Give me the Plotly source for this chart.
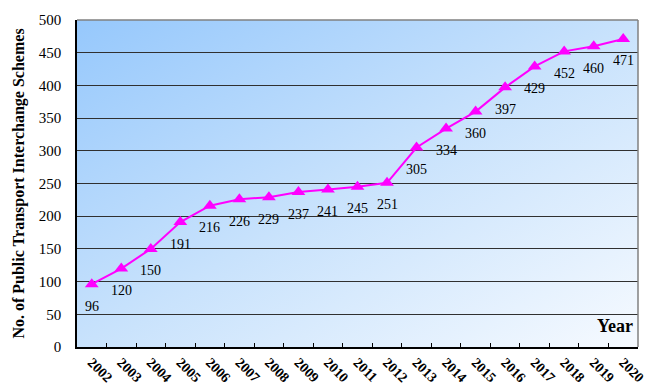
import base64
import plotly.graph_objects as go

years = ["2002", "2003", "2004", "2005", "2006", "2007", "2008", "2009", "2010", "2011",
         "2012", "2013", "2014", "2015", "2016", "2017", "2018", "2019", "2020"]
schemes = [96, 120, 150, 191, 216, 226, 229, 237, 241, 245,
           251, 305, 334, 360, 397, 429, 452, 460, 471]
y_ticks = [0, 50, 100, 150, 200, 250, 300, 350, 400, 450, 500]

svg = ('<svg xmlns="http://www.w3.org/2000/svg" width="100" height="100" preserveAspectRatio="none">'
       '<defs><linearGradient id="g" x1="0" y1="0" x2="1" y2="1">'
       '<stop offset="0" stop-color="#96C8FC"/>'
       '<stop offset="0.5" stop-color="#C8E2FC"/>'
       '<stop offset="1" stop-color="#F6FAFF"/>'
       '</linearGradient></defs>'
       '<rect width="100" height="100" fill="url(#g)"/></svg>')
src = "data:image/svg+xml;base64," + base64.b64encode(svg.encode()).decode()

serif = "Liberation Serif, Times New Roman, serif"

fig = go.Figure()
fig.add_trace(go.Scatter(
    x=years, y=schemes, mode="lines+markers",
    line=dict(color="#FF00FF", width=2),
    marker=dict(symbol="triangle-up", size=12, color="#FF00FF"),
    hoverinfo="x+y", showlegend=False,
))

annotations = [
    dict(x=i, y=v, text=str(v), showarrow=False, xref="x", yref="y",
         yshift=-22, font=dict(family=serif, size=14, color="#000000"))
    for i, v in enumerate(schemes)
]
annotations.append(dict(
    xref="paper", yref="paper", x=0.995, y=0.065, xanchor="right", yanchor="middle",
    text="<b>Year</b>", showarrow=False,
    font=dict(family=serif, size=18, color="#000000")))

fig.update_layout(
    width=645, height=385,
    margin=dict(l=77, r=7, t=20, b=38, autoexpand=False),
    paper_bgcolor="#FFFFFF",
    plot_bgcolor="rgba(0,0,0,0)",
    images=[dict(source=src, xref="paper", yref="paper", x=0, y=1, sizex=1, sizey=1,
                 xanchor="left", yanchor="top", sizing="stretch", layer="below")],
    annotations=annotations,
    shapes=[
        dict(type="line", xref="paper", yref="paper", x0=0, x1=1, y0=1, y1=1,
             line=dict(color="#808080", width=1.5)),
        dict(type="line", xref="paper", yref="paper", x0=1, x1=1, y0=0, y1=1,
             line=dict(color="#808080", width=1.5)),
    ],
    xaxis=dict(
        type="category", tickangle=45, tickson="boundaries",
        range=[-0.5, len(years) - 0.5], automargin=False,
        ticks="inside", ticklen=4, tickcolor="#000000",
        showline=True, linecolor="#000000", linewidth=1.5,
        showgrid=False,
        tickfont=dict(family=serif, size=14, color="#000000"),
        tickprefix="<b>", ticksuffix="</b>",
    ),
    yaxis=dict(
        range=[0, 500], tickvals=y_ticks, automargin=False,
        showline=True, linecolor="#000000", linewidth=1.5,
        showgrid=True, gridcolor="#303030", gridwidth=1,
        ticks="", ticklabelstandoff=11,
        tickfont=dict(family=serif, size=15, color="#000000"),
        tickprefix="<b>", ticksuffix="</b>",
        zeroline=False,
        title=dict(text="<b>No. of Public Transport Interchange Schemes</b>",
                   font=dict(family=serif, size=16, color="#000000"), standoff=10),
    ),
)

fig.write_html("out.html")
